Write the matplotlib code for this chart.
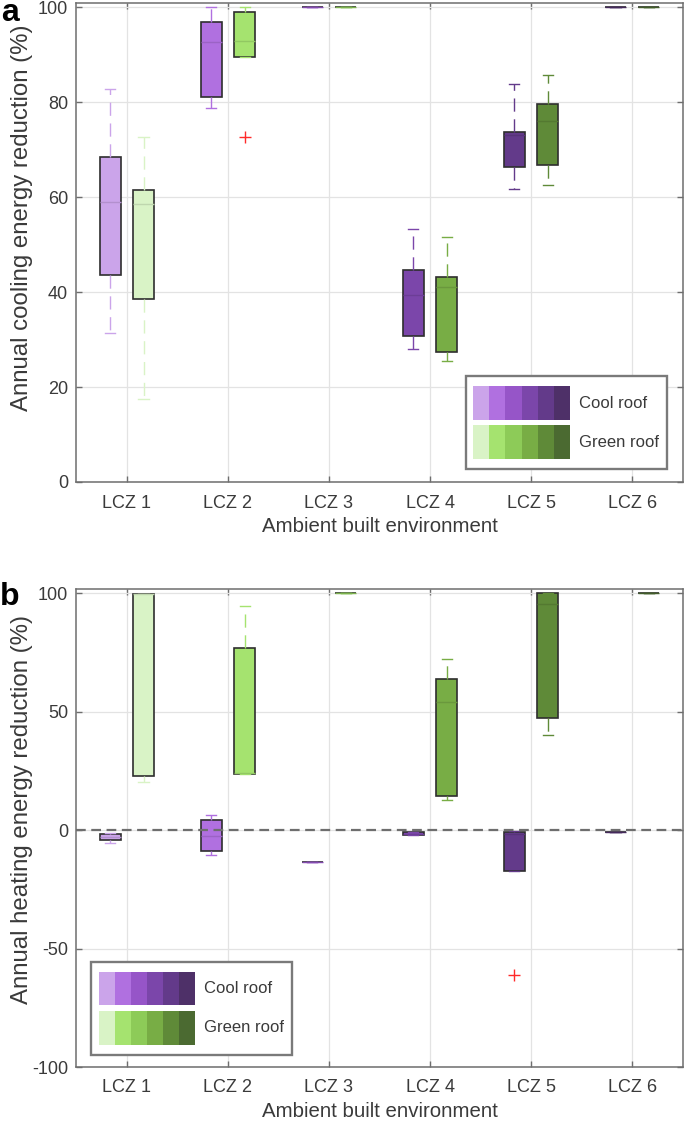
import matplotlib
matplotlib.use("Agg")
import matplotlib.pyplot as plt
from matplotlib.patches import Rectangle
import numpy as np

plt.rcParams['font.family'] = ['Liberation Sans', 'DejaVu Sans']
plt.rcParams['lines.scale_dashes'] = False

# ---------------- data ----------------
categories = ["LCZ 1", "LCZ 2", "LCZ 3", "LCZ 4", "LCZ 5", "LCZ 6"]
series_names = ["Cool roof", "Green roof"]

cool_colors = ["#cba4ea", "#b070e0", "#9655c8", "#7b46aa", "#633a8a", "#4e3068"]
green_colors = ["#d9f3c6", "#a5e36f", "#8dcb58", "#78ad45", "#5f8a38", "#4b6a31"]

# Panel a: annual cooling energy reduction (%)
a_cool_whislo = [31.4, 78.7, 100, 28.0, 61.8, 100]
a_cool_q1     = [43.6, 81.1, 100, 30.8, 66.4, 100]
a_cool_med    = [59.0, 92.7, 100, 39.3, 73.0, 100]
a_cool_q3     = [68.5, 96.8, 100, 44.6, 73.7, 100]
a_cool_whishi = [82.7, 100, 100, 53.2, 83.9, 100]
a_cool_fliers = [[], [], [], [], [], []]

a_green_whislo = [17.4, 89.4, 100, 25.5, 62.6, 100]
a_green_q1     = [38.5, 89.4, 100, 27.4, 66.7, 100]
a_green_med    = [58.5, 92.8, 100, 41.0, 76.1, 100]
a_green_q3     = [61.5, 98.9, 100, 43.2, 79.5, 100]
a_green_whishi = [72.7, 100, 100, 51.6, 85.8, 100]
a_green_fliers = [[], [72.7], [], [], [], []]

# Panel b: annual heating energy reduction (%)
b_cool_whislo = [-5.3, -10.5, -13.5, -2.0, -17.3, -0.8]
b_cool_q1     = [-4.3, -8.6, -13.5, -1.9, -17.3, -0.8]
b_cool_med    = [-2.8, -2.5, -13.5, -1.5, -1.8, -0.8]
b_cool_q3     = [-1.5, 4.4, -13.5, -0.9, -0.7, -0.8]
b_cool_whishi = [-1.1, 6.6, -13.5, -0.8, -0.5, -0.8]
b_cool_fliers = [[], [], [], [], [-61.2], []]

b_green_whislo = [20.3, 23.8, 100, 12.9, 40.1, 100]
b_green_q1     = [22.8, 23.8, 100, 14.3, 47.3, 100]
b_green_med    = [99.7, 24.0, 100, 54.0, 95.5, 100]
b_green_q3     = [99.7, 77.0, 100, 64.0, 100, 100]
b_green_whishi = [99.7, 94.5, 100, 72.3, 100, 100]
b_green_fliers = [[], [], [], [], [], []]

a_yticks = [0, 20, 40, 60, 80, 100]
b_yticks = [-100, -50, 0, 50, 100]

# ---------------- style ----------------
W, H = 685, 1123
TXT = "#3a3a3a"
SPINE = "#6e6e6e"
GRID = "#e3e3e3"
EDGE = "#2e2e2e"


def darker(hexc, f=0.88):
    c = np.array(matplotlib.colors.to_rgb(hexc)) * f
    return tuple(c)


def make_stats(whislo, q1, med, q3, whishi, fliers):
    return [dict(whislo=a, q1=b, med=c, q3=d, whishi=e, fliers=f)
            for a, b, c, d, e, f in zip(whislo, q1, med, q3, whishi, fliers)]


def draw_boxes(ax, stats, colors, offset):
    x = np.arange(1, len(stats) + 1)
    for i, st in enumerate(stats):
        col = colors[i]
        ax.bxp([st], positions=[x[i] + offset], widths=0.205, capwidths=0.1,
               patch_artist=True, manage_ticks=False,
               boxprops=dict(facecolor=col, edgecolor=EDGE, linewidth=1.2),
               whiskerprops=dict(color=col, linewidth=1.0, linestyle=(0, (9.5, 5.5))),
               capprops=dict(color=col, linewidth=1.0),
               medianprops=dict(color=darker(col), linewidth=1.0),
               flierprops=dict(marker='+', markeredgecolor='#ff2a2a', markersize=9,
                               markeredgewidth=1.0, linestyle='none'),
               zorder=3)


def style_axes(ax, ylim, yticks, ylabel, label_y):
    ax.set_xlim(0.5, 6.5)
    ax.set_ylim(*ylim)
    ax.set_xticks(np.arange(1, 7))
    ax.set_xticklabels(categories)
    ax.set_yticks(yticks)
    ax.set_yticklabels([str(t) for t in yticks])
    ax.grid(True, color=GRID, linewidth=0.9, zorder=0)
    ax.set_axisbelow(True)
    for s in ax.spines.values():
        s.set_color(SPINE)
        s.set_linewidth(1.1)
    ax.tick_params(direction='in', length=4, width=1.0, color=SPINE,
                   top=True, right=True, labelsize=13, labelcolor=TXT)
    ax.tick_params(axis='x', pad=9)
    ax.tick_params(axis='y', pad=6)
    ax.set_xlabel("Ambient built environment", fontsize=14.7, color=TXT, labelpad=4)
    ax.set_ylabel(ylabel, fontsize=17.3, color=TXT)
    ax.yaxis.set_label_coords(-0.072, label_y)


def draw_legend(ax, box, patch_x0, patch_x1, rows, text_x):
    bx0, by0, bx1, by1 = box
    ax.add_patch(Rectangle((bx0, by0), bx1 - bx0, by1 - by0, transform=ax.transAxes,
                           facecolor='white', edgecolor='#7a7a7a', linewidth=1.7,
                           zorder=10, clip_on=False))
    n = len(cool_colors)
    dw = (patch_x1 - patch_x0) / n
    for (ry0, ry1), cols, name in zip(rows, [cool_colors, green_colors], series_names):
        for k, c in enumerate(cols):
            ax.add_patch(Rectangle((patch_x0 + k * dw, ry0), dw, ry1 - ry0,
                                   transform=ax.transAxes, facecolor=c,
                                   edgecolor='none', zorder=11, clip_on=False))
        ax.text(text_x, (ry0 + ry1) / 2, name, transform=ax.transAxes,
                fontsize=12, color=TXT, va='center', ha='left', zorder=12)


fig = plt.figure(figsize=(W / 100, H / 100), dpi=100)

ax_left = 76.3 / W
ax_w = (682.7 - 76.3) / W

# ---- panel a ----
axa = fig.add_axes([ax_left, 1 - 482 / H, ax_w, (482 - 3.3) / H])
draw_boxes(axa, make_stats(a_cool_whislo, a_cool_q1, a_cool_med, a_cool_q3,
                           a_cool_whishi, a_cool_fliers), cool_colors, -0.165)
draw_boxes(axa, make_stats(a_green_whislo, a_green_q1, a_green_med, a_green_q3,
                           a_green_whishi, a_green_fliers), green_colors, 0.165)
style_axes(axa, (0, 100.8), a_yticks, "Annual cooling energy reduction (%)", 0.553)
draw_legend(axa, (0.6427, 0.0272, 0.9741, 0.2214), 0.6546, 0.8141,
            [(0.1295, 0.2005), (0.0480, 0.1191)], 0.8289)

# ---- panel b ----
axb = fig.add_axes([ax_left, 1 - 1067 / H, ax_w, (1067 - 589.3) / H])
axb.axhline(0, color='#6e6e6e', linewidth=1.6, linestyle=(0, (7, 4)), zorder=4)
draw_boxes(axb, make_stats(b_cool_whislo, b_cool_q1, b_cool_med, b_cool_q3,
                           b_cool_whishi, b_cool_fliers), cool_colors, -0.165)
draw_boxes(axb, make_stats(b_green_whislo, b_green_q1, b_green_med, b_green_q3,
                           b_green_whishi, b_green_fliers), green_colors, 0.165)
style_axes(axb, (-100, 101.7), b_yticks, "Annual heating energy reduction (%)", 0.538)
draw_legend(axb, (0.0237, 0.0245, 0.3562, 0.2198), 0.0369, 0.1957,
            [(0.1292, 0.1995), (0.0467, 0.1179)], 0.2106)

fig.text(1 / W, 1 - 21 / H, "a", fontsize=23, fontweight='bold', va='baseline', ha='left', color='black')
fig.text(0 / W, 1 - 605 / H, "b", fontsize=23, fontweight='bold', va='baseline', ha='left', color='black')

fig.savefig("out.png", dpi=100)
